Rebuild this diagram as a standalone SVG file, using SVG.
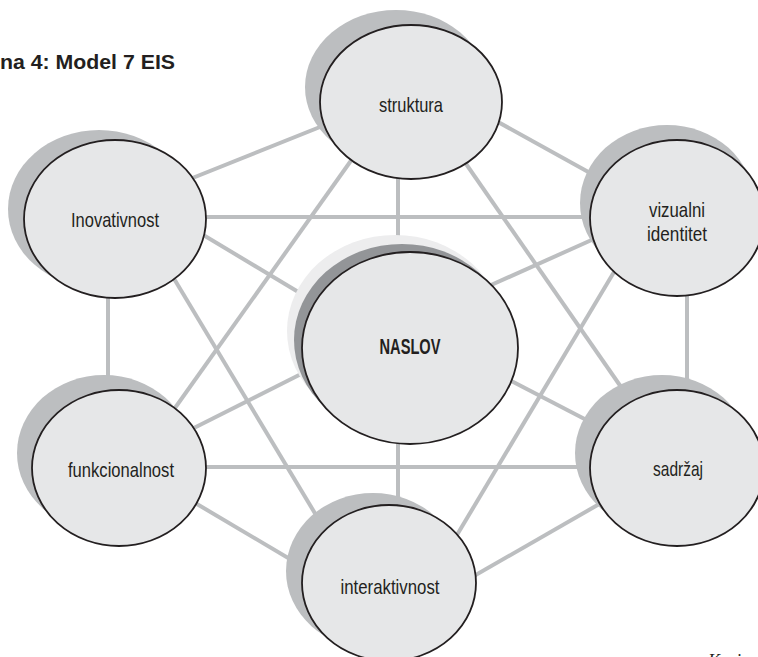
<svg xmlns="http://www.w3.org/2000/svg" width="758" height="657" viewBox="0 0 758 657">
<style>
.bg{fill:#ffffff}
.ln{stroke:#bcbec0;stroke-width:4;fill:none}
.sh{fill:#bcbec0}
.nd{fill:#e6e7e8;stroke:#231f20;stroke-width:1.8}
.lbl{font-family:"Liberation Sans",Arial,sans-serif;font-size:21px;fill:#231f20;text-anchor:middle}
.bold{font-weight:bold;font-size:22px}
.title{font-family:"Liberation Sans",Arial,sans-serif;font-size:21px;font-weight:bold;fill:#231f20}
.src{font-family:"Liberation Serif","Times New Roman",serif;font-style:italic;font-size:18px;fill:#231f20}
</style>
<rect class="bg" x="0" y="0" width="758" height="657"/>
<text class="title" x="0" y="69" textLength="175" lengthAdjust="spacingAndGlyphs">na 4: Model 7 EIS</text>
<text class="src" x="708" y="667">Kazi</text>
<g id="connectors">
<line class="ln" x1="150" y1="195" x2="345" y2="117"/>
<line class="ln" x1="480" y1="112" x2="610" y2="184"/>
<line class="ln" x1="398" y1="170" x2="398" y2="260"/>
<line class="ln" x1="360" y1="148" x2="165" y2="422"/>
<line class="ln" x1="455" y1="148" x2="628" y2="397"/>
<line class="ln" x1="200" y1="217" x2="600" y2="217"/>
<line class="ln" x1="190" y1="227" x2="315" y2="302"/>
<line class="ln" x1="170" y1="272" x2="325" y2="530"/>
<line class="ln" x1="108" y1="290" x2="108" y2="395"/>
<line class="ln" x1="480" y1="290" x2="605" y2="234"/>
<line class="ln" x1="620" y1="262" x2="445" y2="555"/>
<line class="ln" x1="687" y1="290" x2="687" y2="395"/>
<line class="ln" x1="180" y1="435" x2="315" y2="367"/>
<line class="ln" x1="200" y1="467" x2="600" y2="467"/>
<line class="ln" x1="180" y1="494" x2="300" y2="565"/>
<line class="ln" x1="398" y1="435" x2="398" y2="510"/>
<line class="ln" x1="460" y1="584" x2="615" y2="495"/>
<line class="ln" x1="500" y1="375" x2="600" y2="427"/>
</g>
<g id="struktura">
<ellipse class="sh" cx="396" cy="87" rx="91" ry="77"/>
<ellipse class="nd" cx="411" cy="102" rx="91" ry="77"/>
<text class="lbl" x="411" y="112" textLength="64" lengthAdjust="spacingAndGlyphs">struktura</text>
</g>
<g id="inovativnost">
<ellipse class="sh" cx="99" cy="209" rx="91" ry="79"/>
<ellipse class="nd" cx="115" cy="219" rx="91" ry="79"/>
<text class="lbl" x="115" y="227" textLength="88" lengthAdjust="spacingAndGlyphs">Inovativnost</text>
</g>
<g id="vizualni">
<ellipse class="sh" cx="667" cy="203" rx="87" ry="78"/>
<ellipse class="nd" cx="677" cy="218" rx="87" ry="78"/>
<text class="lbl" x="677" y="217" textLength="56" lengthAdjust="spacingAndGlyphs">vizualni</text>
<text class="lbl" x="677" y="241" textLength="60" lengthAdjust="spacingAndGlyphs">identitet</text>
</g>
<g id="funkcionalnost">
<ellipse class="sh" cx="104" cy="453" rx="87" ry="78"/>
<ellipse class="nd" cx="119" cy="468" rx="87" ry="78"/>
<text class="lbl" x="121" y="477" textLength="106" lengthAdjust="spacingAndGlyphs">funkcionalnost</text>
</g>
<g id="sadrzaj">
<ellipse class="sh" cx="662" cy="453" rx="87" ry="78"/>
<ellipse class="nd" cx="677" cy="468" rx="87" ry="78"/>
<text class="lbl" x="678" y="476" textLength="50" lengthAdjust="spacingAndGlyphs">sadržaj</text>
</g>
<g id="interaktivnost">
<ellipse class="sh" cx="373" cy="571" rx="87" ry="78"/>
<ellipse class="nd" cx="389" cy="583" rx="87" ry="78"/>
<text class="lbl" x="390" y="594" textLength="99" lengthAdjust="spacingAndGlyphs">interaktivnost</text>
</g>
<g id="naslov">
<ellipse cx="395" cy="331" rx="108" ry="96" fill="#ededee"/>
<ellipse cx="402" cy="340" rx="108" ry="96" fill="#939598"/>
<ellipse class="nd" cx="410" cy="348" rx="108" ry="96"/>
<text class="lbl bold" x="410" y="354" textLength="61" lengthAdjust="spacingAndGlyphs">NASLOV</text>
</g>
</svg>
